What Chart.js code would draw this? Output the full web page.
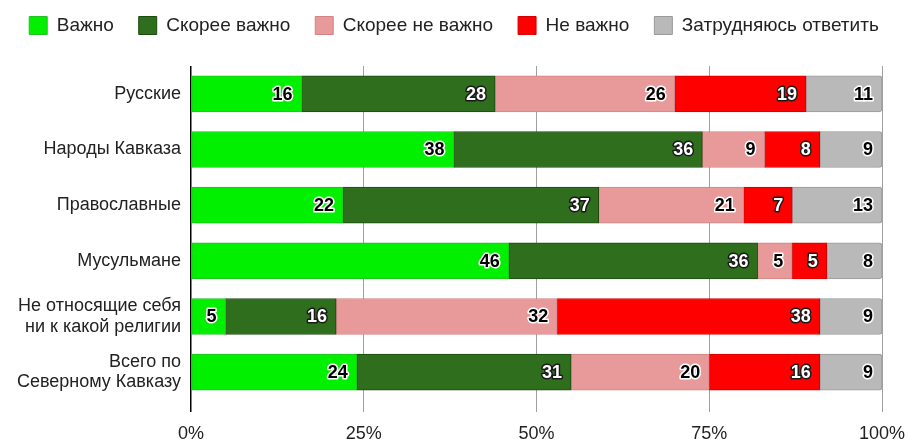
<!DOCTYPE html>
<html>
<head>
<meta charset="utf-8">
<script src="https://cdn.jsdelivr.net/npm/chart.js@4/dist/chart.umd.min.js"></script>
<style>
  html, body { margin: 0; padding: 0; background: #fff; }
  #wrap { width: 908px; height: 439px; }
</style>
</head>
<body>
<div id="wrap"><canvas id="chart"></canvas></div>
<script>
const categories = [
    'Русские',
    'Народы Кавказа',
    'Православные',
    'Мусульмане',
    ['Не относящие себя', 'ни к какой религии'],
    ['Всего по', 'Северному Кавказу']
];
const seriesNames = ['Важно', 'Скорее важно', 'Скорее не важно', 'Не важно', 'Затрудняюсь ответить'];
const important    = [16, 38, 22, 46, 5, 24];
const ratherImp    = [28, 36, 37, 36, 16, 31];
const ratherNotImp = [26, 9, 21, 5, 32, 20];
const notImportant = [19, 8, 7, 5, 38, 16];
const hardToSay    = [11, 9, 13, 8, 9, 9];
const xTicks = [0, 25, 50, 75, 100];

const colors  = ['#00f000', '#2f6e1c', '#e89a9a', '#ff0000', '#b9b9b9'];
const borders = ['#22c022', '#1c4a10', '#d28484', '#d00000', '#9a9a9a'];
const whiteText = [false, true, false, true, false];
const seriesData = [important, ratherImp, ratherNotImp, notImportant, hardToSay];

const FONT = "'Liberation Sans', Arial, sans-serif";

// draws the numbers at the right end of every segment
const valueLabels = {
    id: 'valueLabels',
    afterDatasetsDraw(chart) {
        const ctx = chart.ctx;
        ctx.save();
        ctx.font = 'bold 18px ' + FONT;
        ctx.textAlign = 'right';
        ctx.textBaseline = 'middle';
        ctx.lineJoin = 'round';
        chart.data.datasets.forEach((ds, di) => {
            const meta = chart.getDatasetMeta(di);
            meta.data.forEach((bar, i) => {
                const txt = String(ds.data[i]);
                const x = bar.x - 9, y = bar.y + 1;
                ctx.lineWidth = 3;
                ctx.strokeStyle = whiteText[di] ? '#1a1a1a' : '#ffffff';
                ctx.strokeText(txt, x, y);
                ctx.fillStyle = whiteText[di] ? '#ffffff' : '#000000';
                ctx.fillText(txt, x, y);
            });
        });
        ctx.restore();
    }
};

// more room under the legend
const legendGap = {
    id: 'legendGap',
    beforeInit(chart) {
        const fit = chart.legend.fit;
        chart.legend.fit = function () {
            fit.bind(chart.legend)();
            this.height += 21;
        };
    }
};

new Chart(document.getElementById('chart').getContext('2d'), {
    type: 'bar',
    data: {
        labels: categories,
        datasets: seriesNames.map((name, k) => ({
            label: name,
            data: seriesData[k],
            backgroundColor: colors[k],
            borderColor: borders[k],
            borderWidth: 1,
            borderSkipped: false,
            borderRadius: k === 4 ? {topRight: 3, bottomRight: 3} : 0,
            barThickness: 36
        }))
    },
    options: {
        indexAxis: 'y',
        responsive: true,
        maintainAspectRatio: false,
        animation: false,
        layout: { padding: { top: -9, right: 0, left: 0, bottom: 0 } },
        plugins: {
            legend: {
                position: 'top',
                labels: {
                    boxWidth: 18,
                    boxHeight: 18,
                    padding: 25,
                    color: '#222',
                    font: { family: FONT, size: 19 }
                }
            },
            tooltip: { enabled: false }
        },
        scales: {
            x: {
                stacked: true,
                min: 0,
                max: 100,
                afterBuildTicks: axis => { axis.ticks = xTicks.map(v => ({ value: v })); },
                afterFit: axis => {
                    axis.height = 39;
                    axis.paddingLeft = 0;
                    axis.paddingRight = 26;
                },
                grid: {
                    color: ctx => ctx.index === 0 ? '#000' : '#a0a0a0',
                    lineWidth: ctx => ctx.index === 0 ? 1.5 : 1,
                    tickLength: 12,
                    drawTicks: true
                },
                border: { display: false },
                ticks: {
                    callback: v => v + '%',
                    color: '#222',
                    padding: 11,
                    font: { family: FONT, size: 18 }
                }
            },
            y: {
                stacked: true,
                afterFit: axis => { axis.width = 191; },
                grid: { display: false, tickLength: 0 },
                border: { display: false },
                ticks: {
                    color: '#222',
                    padding: 10,
                    font: { family: FONT, size: 18, lineHeight: 1.15 }
                }
            }
        }
    },
    plugins: [valueLabels, legendGap]
});
</script>
</body>
</html>
